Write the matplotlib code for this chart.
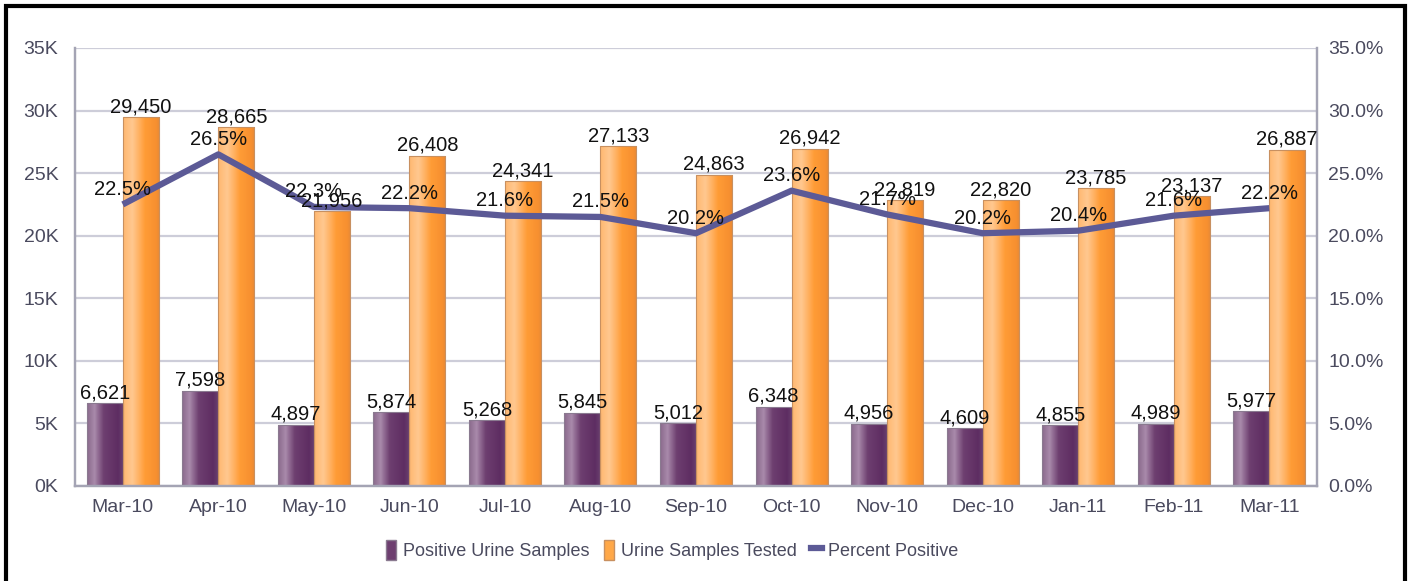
import numpy as np
import matplotlib
matplotlib.use("Agg")
import matplotlib.pyplot as plt
from matplotlib.colors import LinearSegmentedColormap
from matplotlib.patches import Rectangle, Patch
from matplotlib.lines import Line2D

plt.rcParams['font.family'] = ['Liberation Sans', 'DejaVu Sans']

months = ["Mar-10", "Apr-10", "May-10", "Jun-10", "Jul-10", "Aug-10", "Sep-10",
          "Oct-10", "Nov-10", "Dec-10", "Jan-11", "Feb-11", "Mar-11"]
positive = [6621, 7598, 4897, 5874, 5268, 5845, 5012, 6348, 4956, 4609, 4855, 4989, 5977]
tested = [29450, 28665, 21956, 26408, 24341, 27133, 24863, 26942, 22819, 22820, 23785, 23137, 26887]
pct = [22.5, 26.5, 22.3, 22.2, 21.6, 21.5, 20.2, 23.6, 21.7, 20.2, 20.4, 21.6, 22.2]

purple_cmap = LinearSegmentedColormap.from_list(
    "pur", [(0, "#8a6a8c"), (0.2, "#a98aab"), (0.45, "#6e3f70"), (0.85, "#5e2d62"), (1, "#6a4270")])
orange_cmap = LinearSegmentedColormap.from_list(
    "ora", [(0, "#ffb870"), (0.25, "#ffc890"), (0.6, "#ff9c36"), (0.9, "#f79030"), (1, "#e88a36")])

fig = plt.figure(figsize=(14.1, 5.81), dpi=100)
ax = fig.add_axes([75 / 1410, 1 - 486 / 581, (1317 - 75) / 1410, (486 - 48) / 581])
ax2 = ax.twinx()

x = np.arange(len(months))
w = 0.377
grad = np.linspace(0, 1, 64).reshape(1, -1)


def gradient_bars(xs, vals, cmap, edge):
    bars = ax.bar(xs, vals, width=w, color="none", edgecolor=edge, linewidth=0.8, zorder=3)
    for b in bars:
        x0, y0 = b.get_x(), b.get_y()
        im = ax.imshow(grad, cmap=cmap, aspect="auto", zorder=2.5,
                       extent=[x0, x0 + b.get_width(), y0, y0 + b.get_height()])
        im.set_clip_path(b)
    return bars


gradient_bars(x - w / 2, positive, purple_cmap, "#8a7a90")
gradient_bars(x + w / 2, tested, orange_cmap, "#c89060")

ax.set_xlim(-0.5, len(months) - 0.5)
ax.set_ylim(0, 35000)
ax.set_yticks(np.arange(0, 35001, 5000))
ax.set_yticklabels([f"{int(v / 1000)}K" for v in np.arange(0, 35001, 5000)])
ax.set_xticks(x)
ax.set_xticklabels(months)
ax.yaxis.grid(True, color="#cdcdd9", linewidth=1.6, zorder=0)
ax.set_axisbelow(True)

ax2.plot(x, pct, color="#5c5a96", linewidth=4.5, zorder=2, solid_capstyle="butt")
ax2.set_ylim(0, 35)
ax2.set_yticks(np.arange(0, 36, 5))
ax2.set_yticklabels([f"{v:.1f}%" for v in np.arange(0, 36, 5)])

for a in (ax, ax2):
    for s in a.spines.values():
        s.set_color("#a4a4b4")
        s.set_linewidth(1.6)
    a.spines["top"].set_visible(False)
    a.tick_params(length=0, labelsize=14, colors="#4a4a5e")
ax.tick_params(axis="y", pad=12)
ax.tick_params(axis="x", pad=9)
ax2.tick_params(axis="y", pad=8)

# data labels, drawn on the top axes so they sit over the line
for i in range(len(months)):
    ax2.text(x[i] - w / 2, positive[i] + 80, f"{positive[i]:,}", transform=ax.transData,
             ha="center", va="bottom", fontsize=14.5, color="#111111", zorder=4)
    ax2.text(x[i] + w / 2, tested[i] + 80, f"{tested[i]:,}", transform=ax.transData,
             ha="center", va="bottom", fontsize=14.5, color="#111111", zorder=4)
    ax2.text(x[i], pct[i] + 0.45, f"{pct[i]:.1f}%", ha="center", va="bottom",
             fontsize=14.5, color="#111111", zorder=4)

handles = [Patch(facecolor="#6e3f70", edgecolor="#8a7a90"),
           Patch(facecolor="#ffa848", edgecolor="#c89060"),
           Line2D([0], [0], color="#5c5a96", linewidth=4.5)]
fig.legend(handles, ["Positive Urine Samples", "Urine Samples Tested", "Percent Positive"],
           loc="center", bbox_to_anchor=(672 / 1410, 1 - 550 / 581), ncol=3, frameon=False,
           fontsize=13, handlelength=0.6, handleheight=1.4, handletextpad=0.35,
           columnspacing=0.8, labelcolor="#4a4a5e")

fig.patches.append(Rectangle((6 / 1410, -0.05), (1405 - 6) / 1410, 1.05 - 6 / 581,
                             transform=fig.transFigure, fill=False, edgecolor="black",
                             linewidth=3))

fig.savefig("out.png", dpi=100)
